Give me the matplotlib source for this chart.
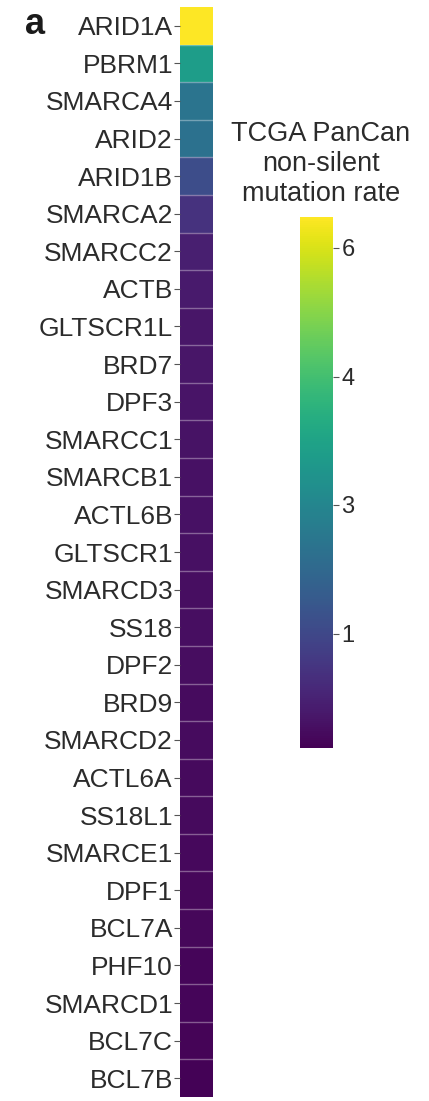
import numpy as np
import matplotlib
matplotlib.use("Agg")
import matplotlib.pyplot as plt
from matplotlib.colors import FuncNorm, Normalize
from matplotlib.cm import ScalarMappable

plt.rcParams["font.family"] = ["Liberation Sans", "DejaVu Sans"]

# SWI/SNF subunits and their TCGA PanCan non-silent mutation rates
genes = ["ARID1A", "PBRM1", "SMARCA4", "ARID2", "ARID1B", "SMARCA2", "SMARCC2",
         "ACTB", "GLTSCR1L", "BRD7", "DPF3", "SMARCC1", "SMARCB1", "ACTL6B",
         "GLTSCR1", "SMARCD3", "SS18", "DPF2", "BRD9", "SMARCD2", "ACTL6A",
         "SS18L1", "SMARCE1", "DPF1", "BCL7A", "PHF10", "SMARCD1", "BCL7C", "BCL7B"]
mutation_rate = [6.3, 3.4, 2.4, 2.3, 1.15, 0.7, 0.45,
                 0.38, 0.34, 0.33, 0.32, 0.31, 0.29, 0.28,
                 0.27, 0.26, 0.25, 0.24, 0.23, 0.22, 0.21,
                 0.20, 0.19, 0.18, 0.17, 0.16, 0.15, 0.14, 0.12]
cbar_ticks = [1, 3, 4, 6]

# piecewise colour scale: anchor values and where they sit on the colour axis
scale_values = [0.1, 1, 3, 4, 6, 6.3]
scale_positions = [0.0, 0.215, 0.458, 0.699, 0.942, 1.0]


def forward(v):
    return np.interp(v, scale_values, scale_positions)


def inverse(p):
    return np.interp(p, scale_positions, scale_values)


norm = FuncNorm((forward, inverse), vmin=scale_values[0], vmax=scale_values[-1])

text_color = "#2b2b2b"
fig = plt.figure(figsize=(4.29, 11.01), dpi=100)

ax = fig.add_axes([180 / 429, 1 - 1097 / 1101, 33 / 429, 1090 / 1101])
n = len(genes)
data = np.array(mutation_rate)[:, None]
mesh = ax.pcolormesh(np.array([0, 1]), np.arange(n + 1), data,
                     cmap="viridis", norm=norm, shading="flat")
for i in range(1, n):
    ax.axhline(i, color=(1, 1, 1, 0.35), lw=1.0)
ax.set_xlim(0, 1)
ax.set_ylim(n, 0)
ax.set_xticks([])
ax.set_yticks(np.arange(n) + 0.5)
ax.set_yticklabels(genes, fontsize=19, color=text_color)
ax.tick_params(axis="y", length=4, width=0.8, color="#555555", pad=1)
for s in ax.spines.values():
    s.set_visible(False)

fig.text(25 / 429, 1 - 25 / 1101, "a", fontsize=26, fontweight="bold",
         color="#1a1a1a", ha="left", va="center")

# colour bar drawn along the normalised colour axis, ticks placed via the norm
cax = fig.add_axes([300 / 429, 1 - 748 / 1101, 33 / 429, 531 / 1101])
sm = ScalarMappable(norm=Normalize(0, 1), cmap="viridis")
cbar = fig.colorbar(sm, cax=cax)
cbar.outline.set_visible(False)
cbar.set_ticks(norm(cbar_ticks))
cbar.set_ticklabels([str(t) for t in cbar_ticks])
cax.tick_params(labelsize=17, length=4, width=0.8, color="#555555",
                labelcolor=text_color, pad=2)
cax.minorticks_off()

fig.text(321 / 429, 1 - 207 / 1101, "TCGA PanCan\nnon-silent\nmutation rate",
         fontsize=19.5, color=text_color, ha="center", va="bottom",
         multialignment="center", linespacing=1.2)

fig.savefig("out.png", dpi=100)
